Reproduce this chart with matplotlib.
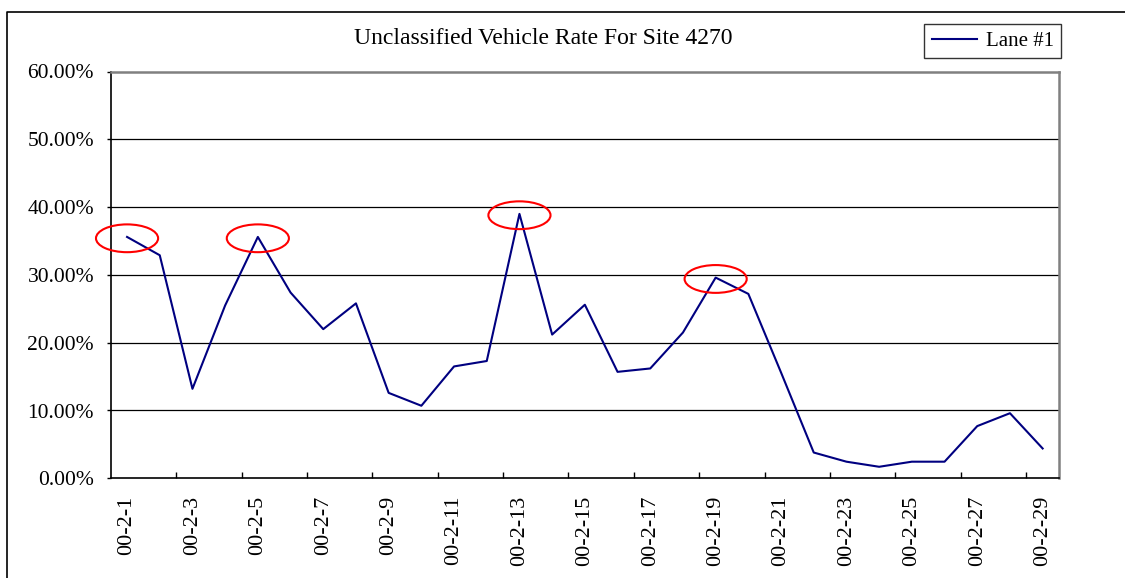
import matplotlib
matplotlib.use("Agg")
import matplotlib.pyplot as plt
from matplotlib.patches import Ellipse
from matplotlib.lines import Line2D
from matplotlib.ticker import FuncFormatter, FixedLocator

# ---- data ----
dates = [f"00-2-{d}" for d in range(1, 30)]
lane1 = [35.6, 32.9, 13.2, 25.5, 35.6, 27.4, 22.0, 25.8, 12.6, 10.7,
         16.5, 17.3, 39.0, 21.2, 25.6, 15.7, 16.2, 21.5, 29.6, 27.2,
         15.6, 3.8, 2.45, 1.7, 2.45, 2.45, 7.7, 9.6, 4.4]
highlight_days = ["00-2-1", "00-2-5", "00-2-13", "00-2-19"]
title = "Unclassified Vehicle Rate For Site 4270"
series_name = "Lane #1"
yticks = [0, 10, 20, 30, 40, 50, 60]

plt.rcParams["font.family"] = ["Liberation Serif", "DejaVu Serif"]

W, H, DPI = 1125, 578, 100
fig = plt.figure(figsize=(W / DPI, H / DPI), dpi=DPI)
ax = fig.add_axes([110.7 / W, 1 - 478.3 / H, (1059 - 110.7) / W, (478.3 - 71.5) / H])

x = list(range(len(dates)))
ax.plot(x, lane1, color="#000080", lw=1.5, label=series_name, zorder=3)

ax.set_xlim(-0.5, len(dates) - 0.5)
ax.set_ylim(0, 60)

# gridlines
for v in yticks[1:-1]:
    ax.axhline(v, color="black", lw=0.9, zorder=1)

ax.set_yticks(yticks)
ax.yaxis.set_major_formatter(FuncFormatter(lambda v, p: f"{v:.2f}%"))
ax.tick_params(axis="y", direction="out", length=3, width=1, pad=9, labelsize=15.5)

# x labels at every other category, tick marks at category boundaries
label_pos = x[::2]
ax.set_xticks(label_pos)
ax.set_xticklabels(dates[::2], rotation=90, fontsize=16)
ax.tick_params(axis="x", which="major", length=0, pad=12.5)
ax.xaxis.set_minor_locator(FixedLocator([i + 1.5 for i in range(0, len(dates) - 2, 2)]))
ax.tick_params(axis="x", which="minor", direction="in", length=4, width=1)

for s in ["left", "bottom"]:
    ax.spines[s].set_color("black")
    ax.spines[s].set_linewidth(1.2)
for s in ["top", "right"]:
    ax.spines[s].set_color("#808080")
    ax.spines[s].set_linewidth(1.8)

# red annotation ellipses around highlighted points
for d in highlight_days:
    i = dates.index(d)
    ax.add_patch(Ellipse((i, lane1[i] - 0.2), 1.9, 4.1, fill=False,
                         edgecolor="red", lw=1.5, zorder=4, clip_on=False))

fig.text(543.5 / W, 1 - 38 / H, title, ha="center", va="center", fontsize=17)

leg = ax.legend(loc="upper right", bbox_to_anchor=(1061 / W, 1 - 24 / H),
                bbox_transform=fig.transFigure, fontsize=15, frameon=True,
                fancybox=False, handlelength=2.2, borderpad=0.35,
                handletextpad=0.4, borderaxespad=0)
leg.get_frame().set_edgecolor("black")
leg.get_frame().set_linewidth(1)

# outer chart-area frame (left and top edges visible)
fig.add_artist(Line2D([6.5 / W, 6.5 / W, 1.0], [0.0, 1 - 11.5 / H, 1 - 11.5 / H],
                      transform=fig.transFigure, color="black", lw=1.2))

fig.savefig("out.png", dpi=DPI)
